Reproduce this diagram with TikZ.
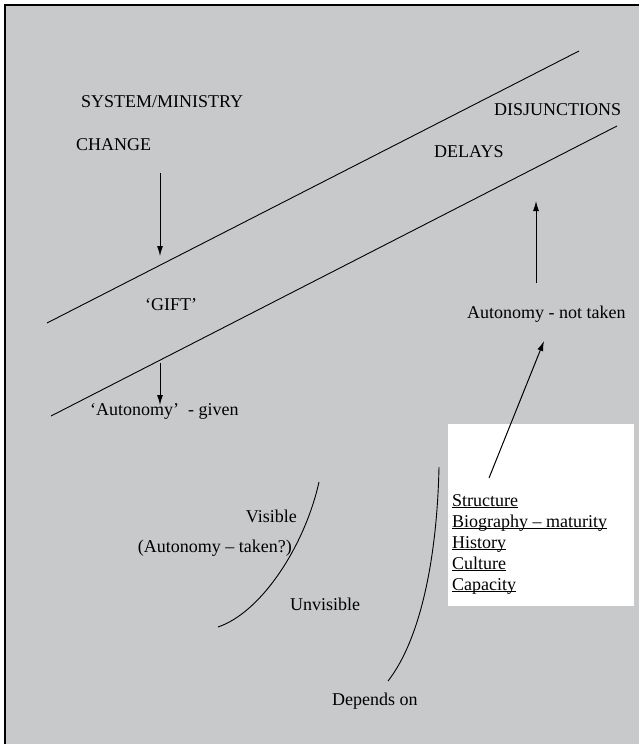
\documentclass[tikz,border=0pt]{standalone}
\usepackage{fontspec}
\setmainfont{Liberation Serif}
\usepackage{tikz}
\usetikzlibrary{arrows.meta}
\definecolor{panelgray}{RGB}{200,201,203}

\tikzset{
  txt/.style={inner sep=0pt, anchor=base west},
  arr/.style={-{Latex[length=10pt,width=6pt]}, line width=1pt},
  thin line/.style={line width=0.9pt},
}

\begin{document}
\begin{tikzpicture}[x=1pt,y=-1pt,font=\fontsize{18}{21}\selectfont]
\useasboundingbox (0,0) rectangle (639,744);
\fill[panelgray] (5,5) rectangle (639,744);%背景
\draw[line width=1.5pt] (5,744) -- (5,5) -- (639,5);%枠
% the band
\draw[thin line] (47,323) -- (579,51);
\draw[thin line] (51,416) -- (617,126);
% texts
\node[txt] (sysmin) at (81,107) {SYSTEM/MINISTRY};
\node[txt] (change) at (76,150) {CHANGE};
\node[txt] (disj) at (494,115) {DISJUNCTIONS};
\node[txt] (delays) at (434,157) {DELAYS};
\node[txt] (gift) at (145,310) {‘GIFT’};
\node[txt] (given) at (90,415) {‘Autonomy’ \ - given};
\node[txt] (nottaken) at (467,318) {Autonomy - not taken};
\node[txt,anchor=base east] (visible) at (297,522) {Visible};
\node[txt,anchor=base east] (taken) at (292,552) {(Autonomy – taken?)};
\node[txt] (unvisible) at (290,610) {Unvisible};
\node[txt] (depends) at (332,705) {Depends on};
% factors
\node[fill=white, inner sep=0pt, minimum width=186pt, minimum height=182pt,
  anchor=north west] (factorbox) at (448,424) {};
\foreach \i/\word in {0/Structure, 1/Biography – maturity, 2/History, 3/Culture, 4/Capacity}
  \node[txt] (factor\i) at (452,{506+21*\i}) {\underline{\smash{\word}}};
% arrows
\coordinate (down1a) at (160,173);
\coordinate (down1b) at (160,256);
\coordinate (down2a) at (160,363);
\coordinate (down2b) at (160,405);
\coordinate (upa) at (536,283);
\coordinate (upb) at (536,201);
\coordinate (diaga) at (489,478);
\coordinate (diagb) at (544,341);
\draw[arr] (down1a) -- (down1b);
\draw[arr] (down2a) -- (down2b);
\draw[arr] (upa) -- (upb);
\draw[arr] (diaga) -- (diagb);
% curves
\draw[thin line] (319,482) .. controls (305,545) and (262,612) .. (218,627);
\draw[thin line] (439,467) .. controls (437,560) and (420,640) .. (388,681);
\end{tikzpicture}
\end{document}
